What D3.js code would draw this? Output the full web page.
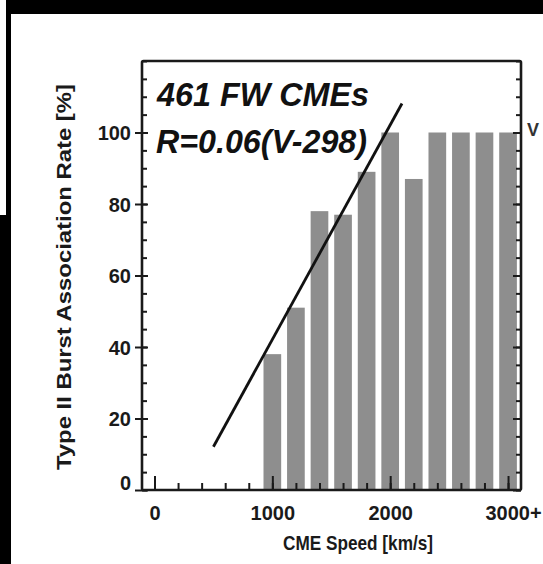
<!DOCTYPE html>
<html>
<head>
<meta charset="utf-8">
<script src="https://cdn.jsdelivr.net/npm/d3@7/dist/d3.min.js"></script>
<style>
  html, body { margin: 0; padding: 0; background: #fff; }
  svg { display: block; }
  text { font-family: "Liberation Sans", Arial, Helvetica, sans-serif; }
</style>
</head>
<body>
<script>
// ---- data ----
const speeds = [1000, 1200, 1400, 1600, 1800, 2000, 2200, 2400, 2600, 2800, 3000];
const rates  = [38, 51, 78, 77, 89, 100, 87, 100, 100, 100, 100];
const fitSpeed = [500, 2100];
const fitRate  = [12.1, 108.1];
const yTickValues = [0, 20, 40, 60, 80, 100];
const xTickValues = [0, 1000, 2000, 3000];
const xTickLabels = ["0", "1000", "2000", "3000+"];
const annotation = ["461 FW CMEs", "R=0.06(V-298)"];
const xTitle = "CME Speed [km/s]";
const yTitle = "Type II Burst Association Rate [%]";

const W = 543, H = 564;
const svg = d3.select("body").append("svg").attr("width", W).attr("height", H);

// page frame (screenshot borders)
svg.append("rect").attr("x", 6).attr("y", 0).attr("width", W - 6).attr("height", 14).attr("fill", "#000");
svg.append("rect").attr("x", 6).attr("y", 0).attr("width", 5).attr("height", H).attr("fill", "#000");
svg.append("rect").attr("x", 0).attr("y", 215).attr("width", 11).attr("height", H - 215).attr("fill", "#000");

const x = d3.scaleLinear().domain([-106, 3110]).range([142, 521]);
const y = d3.scaleLinear().domain([0, 120]).range([490, 61]);
const halfBar = 75;

// bars
svg.append("g").selectAll("rect").data(speeds).join("rect")
  .attr("x", (d) => x(d - halfBar))
  .attr("width", (d) => x(d + halfBar) - x(d - halfBar))
  .attr("y", (d, i) => y(rates[i]))
  .attr("height", (d, i) => y(0) - y(rates[i]))
  .attr("fill", "#8e8e8e");

// fit line
const line = d3.line().x((d) => x(d[0])).y((d) => y(d[1]));
svg.append("path").datum(fitSpeed.map((v, i) => [v, fitRate[i]]))
  .attr("d", line).attr("fill", "none").attr("stroke", "#111").attr("stroke-width", 2.8);

const axisStyle = (g) => {
  g.select(".domain").remove();
  g.selectAll(".tick line").attr("stroke", "#1a1a1a").attr("stroke-width", 2);
};

// bottom minor ticks
svg.append("g").attr("transform", `translate(0,${y(0)})`)
  .call(d3.axisBottom(x).tickValues(d3.range(0, 3001, 200)).tickSize(-7).tickFormat(""))
  .call(axisStyle);
// bottom major ticks + labels
const xb = svg.append("g").attr("transform", `translate(0,${y(0)})`)
  .call(d3.axisBottom(x).tickValues(xTickValues).tickSize(-14).tickPadding(0)
    .tickFormat((d, i) => xTickLabels[i]))
  .call(axisStyle);
xb.selectAll(".tick text")
  .attr("y", 30).attr("dy", 0)
  .attr("dx", (d) => d === 3000 ? 5 : 0)
  .attr("font-size", 20).attr("font-weight", "bold").attr("fill", "#1a1a1a")
  .attr("font-family", "Liberation Sans, Arial, sans-serif");

// left minor ticks
svg.append("g").attr("transform", `translate(${x.range()[0]},0)`)
  .call(d3.axisLeft(y).tickValues(d3.range(0, 121, 5)).tickSize(-5).tickFormat(""))
  .call(axisStyle);
// left major ticks
const yl = svg.append("g").attr("transform", `translate(${x.range()[0]},0)`)
  .call(d3.axisLeft(y).tickValues(yTickValues).tickSize(7).tickPadding(4).tickFormat(d3.format("d")))
  .call(axisStyle);
yl.selectAll(".tick line").attr("x2", -7).attr("x1", 6);
yl.selectAll(".tick text")
  .attr("x", -11)
  .attr("dy", (d) => d === 0 ? "-0.05em" : "0.36em")
  .attr("font-size", 20).attr("font-weight", "bold").attr("fill", "#1a1a1a")
  .attr("font-family", "Liberation Sans, Arial, sans-serif");

// right ticks
svg.append("g").attr("transform", `translate(${x.range()[1]},0)`)
  .call(d3.axisRight(y).tickValues(d3.range(0, 121, 5)).tickSize(-5).tickFormat(""))
  .call(axisStyle);
svg.append("g").attr("transform", `translate(${x.range()[1]},0)`)
  .call(d3.axisRight(y).tickValues(yTickValues).tickSize(-8).tickFormat(""))
  .call(axisStyle);

// plot box
svg.append("rect")
  .attr("x", x.range()[0]).attr("y", y.range()[1])
  .attr("width", x.range()[1] - x.range()[0]).attr("height", y.range()[0] - y.range()[1])
  .attr("fill", "none").attr("stroke", "#1a1a1a").attr("stroke-width", 2.6).attr("rx", 1.5);

// annotation
const ann = svg.append("g").attr("font-weight", "bold").attr("font-style", "italic")
  .attr("font-size", 34).attr("fill", "#111");
ann.append("text").attr("x", 157).attr("y", 106).attr("textLength", 212)
  .attr("lengthAdjust", "spacingAndGlyphs").text(annotation[0]);
ann.append("text").attr("x", 156).attr("y", 153).attr("textLength", 211)
  .attr("lengthAdjust", "spacingAndGlyphs").text(annotation[1]);

// axis titles
svg.append("text").attr("x", 358).attr("y", 550).attr("text-anchor", "middle")
  .attr("font-size", 21).attr("font-weight", "bold").attr("fill", "#1a1a1a")
  .attr("textLength", 150).attr("lengthAdjust", "spacingAndGlyphs").text(xTitle);
svg.append("text").attr("transform", "translate(71,277) rotate(-90)").attr("text-anchor", "middle")
  .attr("font-size", 19.5).attr("font-weight", "bold").attr("fill", "#1a1a1a")
  .attr("textLength", 386).attr("lengthAdjust", "spacingAndGlyphs").text(yTitle);

// fragment of neighbouring panel text
svg.append("text").attr("x", 527).attr("y", 136).attr("font-size", 18).attr("font-weight", "bold")
  .attr("fill", "#333").text("V");
</script>
</body>
</html>
